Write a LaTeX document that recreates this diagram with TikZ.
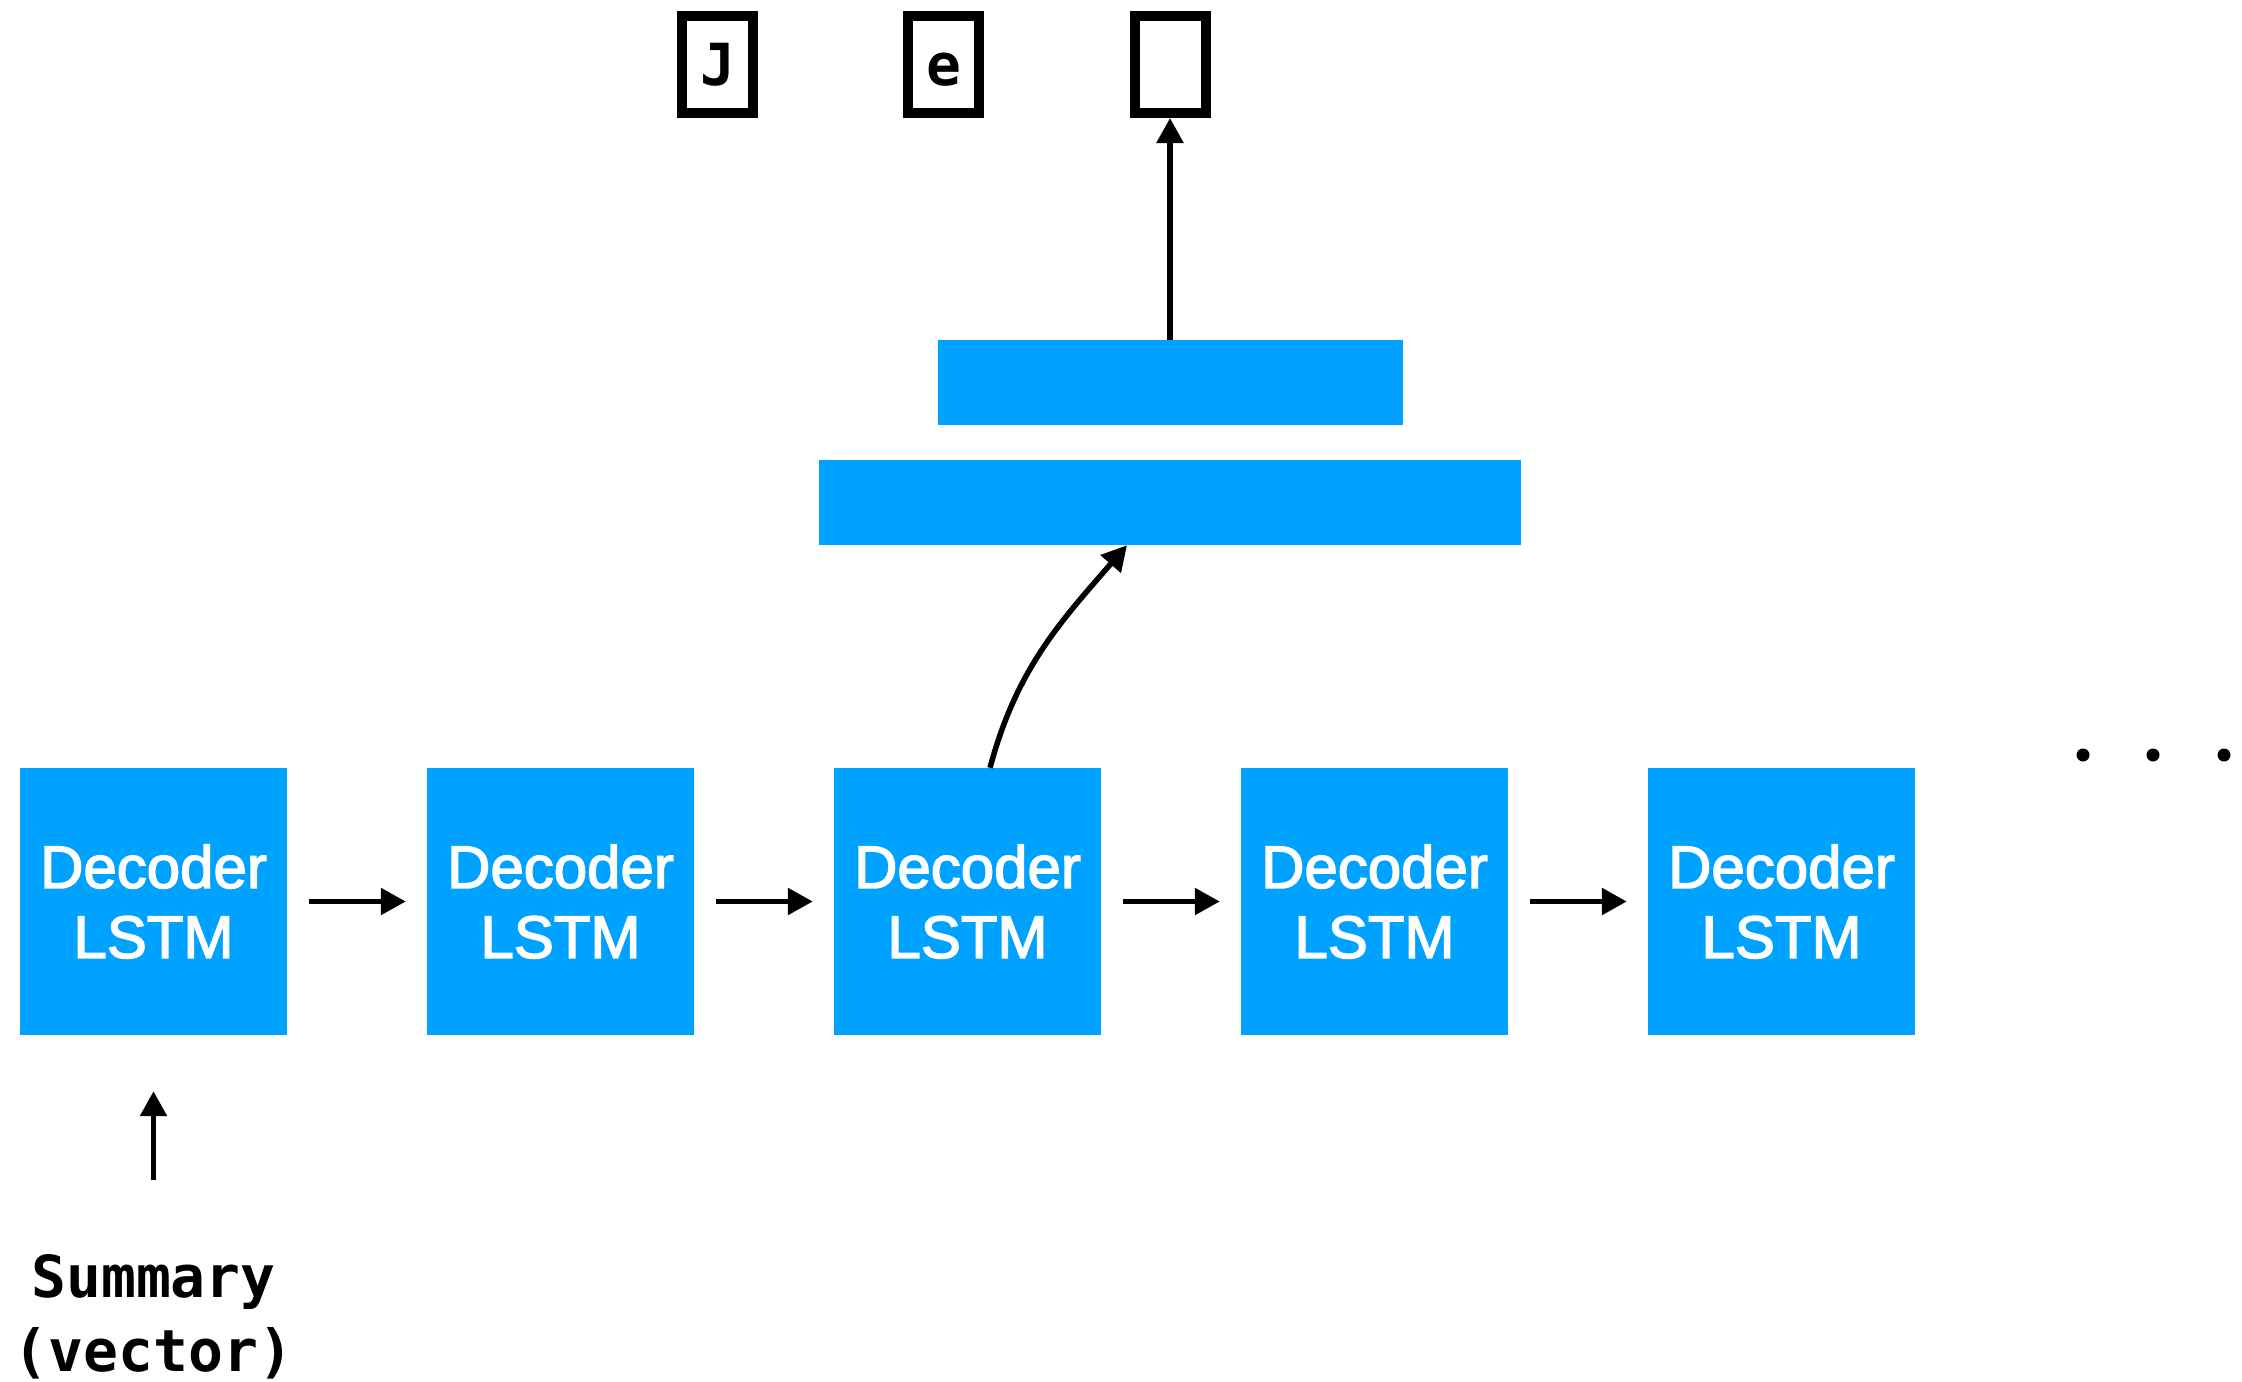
\documentclass[tikz,border=0pt]{standalone}
\usepackage{fontspec}
\setmainfont{Liberation Sans}
\newfontfamily\boxfont{Liberation Sans}[FakeBold=2.4]
\newfontfamily\codefont{DejaVu Sans Mono}
\usetikzlibrary{arrows.meta}
\definecolor{lstmblue}{RGB}{0,162,255}
\tikzset{
  lstm/.style={rectangle, fill=lstmblue, draw=none, minimum width=267pt, minimum height=267pt,
    inner sep=0pt, align=center, text=white, font=\boxfont\fontsize{60}{70}\selectfont},
  dense/.style={rectangle, fill=lstmblue, draw=none, minimum height=85pt, inner sep=0pt},
  token/.style={rectangle, draw=black, line width=10pt, minimum width=71pt, minimum height=97pt,
    inner sep=0pt, text height=42pt, text depth=0pt, font=\codefont\bfseries\fontsize{58}{58}\selectfont},
  flow/.style={line width=5.5pt, -{Triangle[length=25pt,width=26pt]}},
  caption/.style={inner sep=0pt, anchor=base, font=\codefont\bfseries\fontsize{58}{67}\selectfont},
  dot/.style={circle, fill=black, draw=none, minimum size=13pt, inner sep=0pt}
}
\begin{document}
\begin{tikzpicture}[x=1pt, y=-1pt]
  \useasboundingbox (0,0) rectangle (2242,1381);

  % decoder chain
  \node[lstm] (d1) at (153.5,901.5) {Decoder\\LSTM};
  \node[lstm] (d2) at (560.5,901.5) {Decoder\\LSTM};
  \node[lstm] (d3) at (967.5,901.5) {Decoder\\LSTM};
  \node[lstm] (d4) at (1374.5,901.5) {Decoder\\LSTM};
  \node[lstm] (d5) at (1781.5,901.5) {Decoder\\LSTM};

  % output layers
  \node[dense, minimum width=702pt] (fca) at (1170,502.5) {};
  \node[dense, minimum width=465pt] (fcb) at (1170,382.5) {};

  % produced characters
  \node[token] (t1) at (717.5,64.5) {J};
  \node[token] (t2) at (943.5,64.5) {e};
  \node[token] (t3) at (1170,64.5) {};

  % continuation dots
  \node[dot] (p1) at (2083,755) {};
  \node[dot] (p2) at (2153,755) {};
  \node[dot] (p3) at (2224,755) {};

  % input caption
  \node[caption] (s1) at (153.5,1297) {Summary};
  \node[caption] (s2) at (153.5,1371) {(vector)};
  \coordinate (sumtop) at (153.5,1180);

  % connectors
  \foreach \a/\b in {d1/d2,d2/d3,d3/d4,d4/d5}
    \draw[flow, shorten <=22pt, shorten >=21pt] (\a.east) -- (\b.west);
  \draw[flow] (sumtop) -- ([yshift=-56pt]d1.south);
  \draw[flow] ([xshift=22.5pt]d3.north) to[out=75, in=229] ([xshift=-43pt]fca.south);
  \draw[flow] (fcb.north) -- (t3.south);
\end{tikzpicture}
\end{document}
